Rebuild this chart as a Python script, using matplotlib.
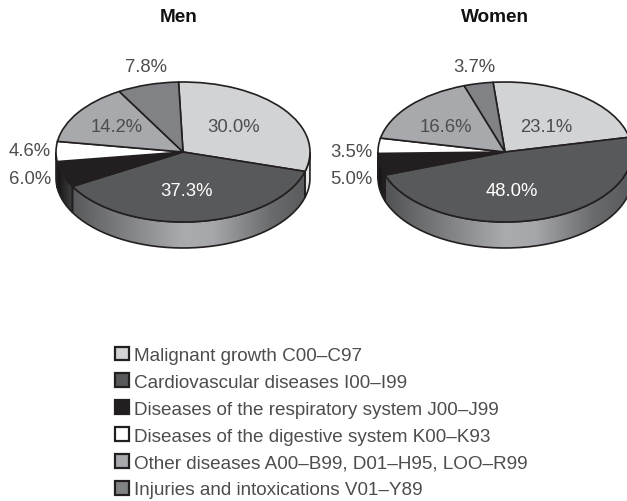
"""
Causes of death, men vs women: two 3D-look pies with a shared legend.
"""

import numpy as np
import matplotlib
matplotlib.use("Agg")
import matplotlib.pyplot as plt
from matplotlib.colors import LinearSegmentedColormap
from matplotlib.patches import Patch, PathPatch
from matplotlib.path import Path

plt.rcParams["font.family"] = ["Liberation Sans", "DejaVu Sans"]

# ── Data ──────────────────────────────────────────────────────────────────────
categories = [
    "Malignant growth C00–C97",
    "Cardiovascular diseases I00–I99",
    "Diseases of the respiratory system J00–J99",
    "Diseases of the digestive system K00–K93",
    "Other diseases A00–B99, D01–H95, LOO–R99",
    "Injuries and intoxications V01–Y89",
]
men = [30.0, 37.3, 6.0, 4.6, 14.2, 7.8]
women = [23.1, 48.0, 5.0, 3.5, 16.6, 3.7]

# ── Styles ────────────────────────────────────────────────────────────────────
W, H = 627, 502
RX, RY, DEPTH = 127, 70, 26
LINE = "#231f20"
TEXT = "#4d4d4f"
colors = ["#d1d3d4", "#58595b", "#231f20", "#ffffff", "#a7a9ac", "#808285"]

# side wall shading, left to right across the pie
wall_stops = [
    [(0, "#e6e7e8"), (1, "#e6e7e8")],
    [(0, "#4c4d4f"), (0.1, "#5f6062"), (0.5, "#a9abae"), (0.62, "#a5a7aa"),
     (0.85, "#6a6b6d"), (1, "#58595b")],
    [(0, "#141213"), (0.07, "#454546"), (1, "#454546")],
    [(0, "#ffffff"), (1, "#ffffff")],
    [(0, "#a7a9ac"), (1, "#a7a9ac")],
    [(0, "#808285"), (1, "#808285")],
]

# layout, in pixels from the top left of the picture
PIES = [
    ("Men", men, 183, 153, 92.0, 179,
     [(234, 127.5), (186, 191.5), (30, 179.5), (30, 151.5), (117, 127.5), (146, 67.5)]),
    ("Women", women, 505, 153, 95.4, 495,
     [(546, 127.5), (512, 191.5), (351, 179.5), (351, 152.5), (446, 127.5), (474, 67.5)]),
]
TITLE_Y = 18
LABEL_SIZE = 13.3


def draw_wall(ax, theta_hi, theta_lo, color_idx):
    """Side wall under one wedge, only the part facing the viewer (-180..0)."""
    hi, lo = min(theta_hi, 0), max(theta_lo, -180)
    if hi <= lo:
        return
    t = np.radians(np.linspace(lo, hi, 80))
    x, y = np.cos(t), np.sin(t)
    drop = 2 * DEPTH / (2 * RY)
    xs = np.r_[x, x[::-1], x[0]]
    ys = np.r_[y, y[::-1] - drop, y[0]]
    patch = PathPatch(Path(np.c_[xs, ys]), facecolor="none", edgecolor=LINE,
                      lw=1.2, zorder=0.6, clip_on=False)
    ax.add_patch(patch)
    cmap = LinearSegmentedColormap.from_list("wall", wall_stops[color_idx])
    im = ax.imshow(np.linspace(0, 1, 256)[None, :], cmap=cmap, aspect="auto",
                   extent=(-1, 1, -1 - drop, 1), zorder=0.4, vmin=0, vmax=1)
    im.set_clip_path(patch)


fig = plt.figure(figsize=(W / 100, H / 100), dpi=100)
fig.patch.set_facecolor("white")

for name, values, cx, cy, start, title_x, label_pos in PIES:
    ax = fig.add_axes([(cx - RX) / W, (H - cy - RY - DEPTH) / H,
                       2 * RX / W, (2 * RY + DEPTH) / H])
    ax.pie(values, colors=colors, startangle=start, counterclock=False,
           normalize=True, radius=1,
           wedgeprops={"edgecolor": LINE, "linewidth": 1.2, "clip_on": False})

    cum = np.r_[0, np.cumsum(values)] / np.sum(values) * 360
    for i in range(len(values)):
        draw_wall(ax, start - cum[i], start - cum[i + 1], i)

    ax.set_aspect("auto")
    ax.set_xlim(-1, 1)
    ax.set_ylim(-1 - 2 * DEPTH / (2 * RY), 1)
    ax.axis("off")

    fig.text(title_x / W, 1 - TITLE_Y / H, name, ha="center", va="center",
             fontsize=13.7, fontweight="bold", color="#111111")
    for i, (v, (px, py)) in enumerate(zip(values, label_pos)):
        fig.text(px / W, 1 - py / H, f"{v:.1f}%", ha="center", va="center",
                 fontsize=LABEL_SIZE, color="white" if i == 1 else TEXT)

# ── Legend ────────────────────────────────────────────────────────────────────
handles = [Patch(facecolor=c, edgecolor=LINE, linewidth=1.6) for c in colors]
fig.legend(handles, categories, loc="upper left",
           bbox_to_anchor=(115 / W, 1 - 347.5 / H), borderaxespad=0, borderpad=0,
           frameon=False, fontsize=13.6, labelcolor=TEXT, handlelength=0.74,
           handleheight=0.74, handletextpad=0.29, labelspacing=0.5)

fig.savefig("out.png", dpi=100)
